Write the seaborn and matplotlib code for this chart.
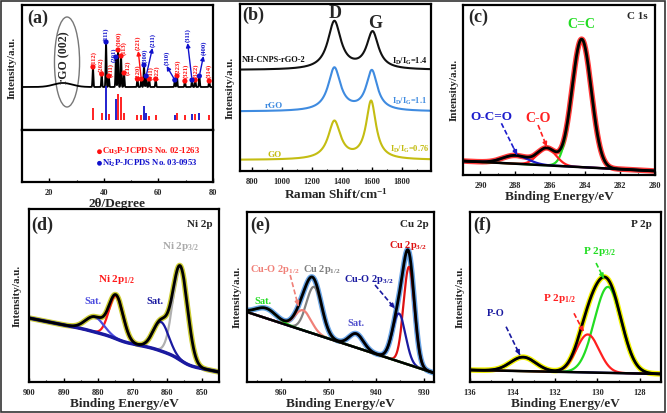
import numpy as np
import pandas as pd
import seaborn as sns
import matplotlib.pyplot as plt
from matplotlib.patches import Ellipse, Rectangle
from matplotlib.ticker import MultipleLocator, AutoMinorLocator

# ---------------- (a) XRD, values ----------------
xrd_peak_pos = [36.0, 39.2, 40.8, 41.8, 44.4, 45.2, 46.3, 47.4, 52.3, 53.7, 54.7, 55.5,
                56.6, 59.0, 66.0, 66.8, 69.7, 72.3, 73.5, 75.0, 78.6]
xrd_peak_h = [20, 13, 45, 11, 30, 37, 31, 14, 8, 8, 22, 11, 8, 8, 7, 11, 6, 7, 7, 11, 6]
xrd_base = 43
rgo_bump = [25.0, 4, 8.0]          # centre, height, width

cu3p_pos = [36.0, 39.2, 41.8, 45.2, 46.3, 47.4, 52.3, 53.7, 56.6, 59.0, 66.8, 69.7, 73.5, 78.6]
cu3p_ref_h = [11.7, 7.3, 5.7, 26, 22.7, 7.3, 5, 5, 4, 5, 7.3, 5, 6, 5]
cu3p_hkl = ['(112)', '(202)', '(211)', '(300)', '(113)', '(212)', '(220)', '(221)', '(311)',
            '(222)', '(223)', '(321)', '(322)', '(314)']
cu3p_lab_x = [36.3, 38.8, 42.6, 45.5, 47.2, 48.7, 52.3, 52.6, 57.2, 59.6, 67.0, 70.0, 73.7, 78.6]
cu3p_lab_y = [65, 58, 53, 84, 75, 55, 51, 80, 50, 50, 56, 52, 52, 52]
cu3p_arrow = [0, 0, 0, 0, 0, 0, 0, 1, 0, 0, 0, 0, 0, 0]

ni2p_pos = [40.8, 44.4, 54.7, 55.5, 66.0, 72.3, 75.0]
ni2p_ref_h = [34, 20.7, 14, 6.7, 5, 6, 7.3]
ni2p_hkl = ['(111)', '(201)', '(300)', '(211)', '(310)', '(311)', '(400)']
ni2p_lab_x = [40.8, 43.6, 55.0, 57.8, 63.0, 70.7, 76.5]
ni2p_lab_y = [89, 68, 67, 83, 65, 88, 75]
ni2p_arrow = [0, 0, 0, 1, 1, 1, 1]

# ---------------- (b) Raman ----------------
raman_names = ['NH-CNPS-rGO-2', 'rGO', 'GO']
raman_ratio = ['1.4', '1.1', '0.76']
raman_colors = ['#111111', '#3f8be0', '#c4bd12']
raman_base = [101, 59.5, 11]
raman_d_pos = [1350, 1350, 1350]
raman_d_h = [48, 43, 38]
raman_d_w = [105, 100, 100]
raman_g_pos = [1605, 1600, 1595]
raman_g_h = [37, 40, 58]
raman_g_w = [95, 90, 80]

# ---------------- XPS fits: centre, height, FWHM ----------------
c1s_names = ['C=C', 'C-O', 'O-C=O']
c1s_pos = [284.2, 286.2, 288.0]
c1s_h = [128, 17, 8.3]
c1s_w = [1.3, 1.25, 1.7]
c1s_colors = ['#22dd22', '#ff2020', '#1c1ccc']
c1s_bg = [14, 4]                    # at 291 eV, at 280 eV

ni_names = ['Ni 2p$_{3/2}$', 'Sat.', 'Ni 2p$_{1/2}$', 'Sat.']
ni_pos = [856.2, 861.8, 874.8, 881.0]
ni_h = [93, 29, 43, 15]
ni_w = [5.0, 5.3, 4.8, 6.3]
ni_colors = ['#b0b0b0', '#1a1aa0', '#ff1a1a', '#4a4adf']
ni_bg = [48, 10, 16]                # linear at 900, at 845, shirley step

cu_names = ['Cu 2p$_{3/2}$', 'Cu-O 2p$_{3/2}$', 'Sat.', 'Cu 2p$_{1/2}$', 'Cu-O 2p$_{1/2}$', 'Sat.']
cu_pos = [933.2, 935.3, 944.2, 953.0, 955.3, 963.0]
cu_h = [98, 48, 14, 47, 20, 10]
cu_w = [2.7, 3.2, 3.5, 3.8, 4.0, 5.0]
cu_colors = ['#dd1111', '#1a1aa0', '#5050cc', '#808080', '#f08078', '#22dd22']
cu_bg = [70, 9]                     # at 967 eV, at 928 eV

p_names = ['P 2p$_{3/2}$', 'P 2p$_{1/2}$', 'P-O']
p_pos = [129.5, 130.45, 133.5]
p_h = [86, 38, 14]
p_w = [1.5, 1.25, 1.4]
p_colors = ['#22dd22', '#ff2020', '#1a1aa0']
p_bg = [8, 12]                      # at 136 eV, at 127 eV

W, H = 667, 413

sns.set_theme(style='white')
plt.rcParams['font.family'] = ['Liberation Serif', 'DejaVu Serif']
plt.rcParams['font.weight'] = 'bold'
plt.rcParams['axes.labelweight'] = 'bold'
plt.rcParams['mathtext.fontset'] = 'custom'
plt.rcParams['mathtext.rm'] = 'Liberation Serif:bold'
plt.rcParams['mathtext.it'] = 'Liberation Serif:italic:bold'
plt.rcParams['mathtext.bf'] = 'Liberation Serif:bold'
plt.rcParams['mathtext.default'] = 'rm'


def box(l, t, r, b):
    return [l / W, 1 - b / H, (r - l) / W, (b - t) / H]


def gauss(x, c, h, w):
    return h * np.exp(-4 * np.log(2) * (x - c) ** 2 / w ** 2)


def lorentz(x, c, h, w):
    return h / (1 + 4 * (x - c) ** 2 / w ** 2)


def style(ax, xlim, ylim, major, xlabel, ypad=3.5):
    ax.set_xlim(xlim)
    ax.set_ylim(ylim)
    ax.set_yticks([])
    ax.xaxis.set_major_locator(MultipleLocator(major))
    ax.xaxis.set_minor_locator(AutoMinorLocator(2))
    ax.tick_params(axis='x', which='major', direction='in', bottom=True, top=False,
                   length=3, width=1, labelsize=6, pad=5, color='black')
    ax.tick_params(axis='x', which='minor', direction='in', bottom=True, top=False,
                   length=1.5, width=0.8, color='black')
    for s in ax.spines.values():
        s.set_linewidth(1.6)
        s.set_color('black')
    ax.set_xlabel(xlabel, fontsize=9.5, labelpad=1)
    ax.set_ylabel('Intensity/a.u.', fontsize=8, labelpad=ypad)


def dashed_arrow(ax, tail, head, color):
    ax.plot([tail[0], head[0]], [tail[1], head[1]], ls=(0, (3, 1.5)), color=color, lw=1.2)
    mid = (tail[0] + 0.8 * (head[0] - tail[0]), tail[1] + 0.8 * (head[1] - tail[1]))
    ax.annotate('', xy=head, xytext=mid,
                arrowprops=dict(arrowstyle='-|>', color=color, lw=1.2, mutation_scale=6,
                                shrinkA=0, shrinkB=0))


fig = plt.figure(figsize=(6.67, 4.13), dpi=100)

# ================= (a) =================
ax_a = fig.add_axes(box(22, 5, 213, 130))
ax_a2 = fig.add_axes(box(22, 130, 213, 182))
tt = np.linspace(10, 80, 3501)
pat = xrd_base + gauss(tt, *rgo_bump)
for c, h in zip(xrd_peak_pos, xrd_peak_h):
    pat = pat + gauss(tt, c, h, 0.35)
sns.lineplot(x=tt, y=pat, color='black', lw=1.3, ax=ax_a)
ax_a.vlines(cu3p_pos, 10, 10 + np.array(cu3p_ref_h), color='#ff1010', lw=1.3)
ax_a.vlines(ni2p_pos, 10, 10 + np.array(ni2p_ref_h), color='#1010cc', lw=1.3)

for pos, hkl, lx, ly, arr, col in ([(p, k, x, y, a, '#ff1010') for p, k, x, y, a in
                                    zip(cu3p_pos, cu3p_hkl, cu3p_lab_x, cu3p_lab_y, cu3p_arrow)] +
                                   [(p, k, x, y, a, '#1010cc') for p, k, x, y, a in
                                    zip(ni2p_pos, ni2p_hkl, ni2p_lab_x, ni2p_lab_y, ni2p_arrow)]):
    my = np.interp(pos, tt, pat)
    ax_a.scatter([pos], [my], s=14, color=col, edgecolor='none', zorder=5)
    ax_a.text(lx, ly, hkl, rotation=90, ha='center', va='bottom', fontsize=4.8, color=col)
    if arr:
        ax_a.annotate('', xy=(lx, ly - 1), xytext=(pos, my),
                      arrowprops=dict(arrowstyle='-|>', color=col, lw=1, mutation_scale=6,
                                      shrinkA=2, shrinkB=0))

ax_a.add_patch(Ellipse((26.5, 68), 9.2, 90, fill=False, ec='#777777', lw=1))
ax_a.text(25.6, 72, 'rGO (002)', rotation=90, ha='center', va='center', fontsize=8.5)
ax_a.text(0.03, 0.895, '(a)', transform=ax_a.transAxes, fontsize=13, va='center')
style(ax_a, (10, 80), (0, 125), 20, '', ypad=4)
ax_a.set_xlabel('')
ax_a.tick_params(axis='x', which='both', bottom=False, labelbottom=False)

style(ax_a2, (10, 80), (0, 52), 20, '2θ/Degree')
ax_a2.set_ylabel('')
ax_a2.scatter([38.4], [30.3], s=12, color='#ff1010', edgecolor='none')
ax_a2.scatter([38.4], [18.7], s=12, color='#1010cc', edgecolor='none')
ax_a2.text(39.4, 30.3, 'Cu$_3$P-JCPDS No. 02-1263', color='#ff1010', fontsize=6.3, va='center')
ax_a2.text(39.4, 18.7, 'Ni$_2$P-JCPDS No. 03-0953', color='#1010cc', fontsize=6.3, va='center')

# ================= (b) =================
ax_b = fig.add_axes(box(240, 4, 431, 171))
rs = np.linspace(720, 1995, 1000)
for i in range(3):
    y = (raman_base[i] + lorentz(rs, raman_d_pos[i], raman_d_h[i], raman_d_w[i])
         + lorentz(rs, raman_g_pos[i], raman_g_h[i], raman_g_w[i]))
    sns.lineplot(x=rs, y=y, color=raman_colors[i], lw=1.5, ax=ax_b)
ax_b.text(731, 111, raman_names[0], color=raman_colors[0], fontsize=6, va='center', ha='left')
ax_b.text(943, 65, raman_names[1], color=raman_colors[1], fontsize=6.5, va='center', ha='center')
ax_b.text(948, 16, raman_names[2], color=raman_colors[2], fontsize=6.5, va='center', ha='center')
for i, yy in enumerate([110, 69.3, 21.7]):
    ax_b.text(1850, yy, 'I$_{D}$/I$_{G}$=' + raman_ratio[i], color=raman_colors[i], fontsize=6,
              ha='center', va='center')
ax_b.text(1356, 157.7, 'D', fontsize=13, ha='center', va='center')
ax_b.text(1625, 147.7, 'G', fontsize=13, ha='center', va='center')
ax_b.text(0.014, 0.934, '(b)', transform=ax_b.transAxes, fontsize=13, va='center')
style(ax_b, (720, 1995), (0, 167), 200, 'Raman Shift/cm$^{-1}$')


# ================= XPS panels =================
def xps(ax, x, bg, pos, hs, ws, cols, raw_col, bg_col, bg_lw):
    comps = [gauss(x, c, h, w) for c, h, w in zip(pos, hs, ws)]
    env = bg + np.sum(comps, axis=0)
    sns.lineplot(x=x, y=env, color=raw_col, lw=4, ax=ax)
    for comp, col in zip(comps, cols):
        sns.lineplot(x=x, y=bg + comp, color=col, lw=1.6, ax=ax)
    sns.lineplot(x=x, y=bg, color=bg_col, lw=bg_lw, ax=ax)
    sns.lineplot(x=x, y=env, color='black', lw=2, ax=ax)


# (c) C 1s
ax_c = fig.add_axes(box(463, 5, 655, 175))
xc = np.linspace(280, 291, 800)
bgc = c1s_bg[1] + (c1s_bg[0] - c1s_bg[1]) * (xc - 280) / 11
xps(ax_c, xc, bgc, c1s_pos, c1s_h, c1s_w, c1s_colors, '#ff3b3b', 'black', 1.8)
ax_c.text(284.2, 150, c1s_names[0], color=c1s_colors[0], fontsize=10, ha='center', va='center')
ax_c.text(286.7, 56.7, c1s_names[1], color=c1s_colors[1], fontsize=10, ha='center', va='center')
ax_c.text(289.4, 58.3, c1s_names[2], color=c1s_colors[2], fontsize=9.5, ha='center', va='center')
dashed_arrow(ax_c, (288.8, 51.7), (287.9, 20), c1s_colors[2])
dashed_arrow(ax_c, (286.7, 50), (286.2, 28.3), c1s_colors[1])
ax_c.text(0.964, 0.93, 'C 1s', transform=ax_c.transAxes, fontsize=8, ha='right', va='center')
ax_c.text(0.026, 0.93, '(c)', transform=ax_c.transAxes, fontsize=13, va='center')
style(ax_c, (291, 280), (0, 170), 2, 'Binding Energy/eV', ypad=3)

# (d) Ni 2p
ax_d = fig.add_axes(box(29, 209, 219, 382))
xd = np.linspace(845, 900, 900)
peaks_d = np.sum([gauss(xd, c, h, w) for c, h, w in zip(ni_pos, ni_h, ni_w)], axis=0)
cum = np.cumsum(peaks_d)
bgd = ni_bg[1] + (ni_bg[0] - ni_bg[1]) * (xd - 845) / 55 + ni_bg[2] * cum / cum[-1]
xps(ax_d, xd, bgd, ni_pos, ni_h, ni_w, ni_colors, '#cccc33', '#1a1aa0', 2.5)
ax_d.text(856.2, 135.3, ni_names[0], color='#aaaaaa', fontsize=8, ha='center', va='center')
ax_d.text(863.5, 81, ni_names[1], color=ni_colors[1], fontsize=7.5, ha='center', va='center')
ax_d.text(874.6, 102, ni_names[2], color=ni_colors[2], fontsize=8, ha='center', va='center')
ax_d.text(881.4, 80.3, ni_names[3], color=ni_colors[3], fontsize=7.5, ha='center', va='center')
ax_d.text(0.968, 0.908, 'Ni 2p', transform=ax_d.transAxes, fontsize=8, ha='right', va='center')
ax_d.text(0.014, 0.908, '(d)', transform=ax_d.transAxes, fontsize=13, va='center')
style(ax_d, (900, 845), (0, 173), 10, 'Binding Energy/eV', ypad=5)

# (e) Cu 2p
ax_e = fig.add_axes(box(247, 212, 434, 382))
xe = np.linspace(928, 967, 900)
bge = cu_bg[1] + (cu_bg[0] - cu_bg[1]) * (xe - 928) / 39
xps(ax_e, xe, bge, cu_pos, cu_h, cu_w, cu_colors, '#6aa5e6', 'black', 1.8)
ax_e.text(933.4, 137, cu_names[0], color=cu_colors[0], fontsize=7.5, ha='center', va='center')
ax_e.text(941.7, 102, cu_names[1], color=cu_colors[1], fontsize=7.5, ha='center', va='center')
ax_e.text(944.2, 58, cu_names[2], color=cu_colors[2], fontsize=7.5, ha='center', va='center')
ax_e.text(951.4, 112, cu_names[3], color=cu_colors[3], fontsize=7.5, ha='center', va='center')
ax_e.text(961.3, 112, cu_names[4], color=cu_colors[4], fontsize=7.5, ha='center', va='center')
ax_e.text(963.6, 80.3, cu_names[5], color=cu_colors[5], fontsize=7.5, ha='center', va='center')
dashed_arrow(ax_e, (940.3, 97), (936.2, 73.7), cu_colors[1])
dashed_arrow(ax_e, (958, 107), (956.3, 76), cu_colors[4])
ax_e.text(0.97, 0.924, 'Cu 2p', transform=ax_e.transAxes, fontsize=8, ha='right', va='center')
ax_e.text(0.016, 0.924, '(e)', transform=ax_e.transAxes, fontsize=13, va='center')
style(ax_e, (967, 928), (0, 170), 10, 'Binding Energy/eV', ypad=4)

# (f) P 2p
ax_f = fig.add_axes(box(470, 212, 661, 382))
xf = np.linspace(127, 136, 800)
bgf = p_bg[1] + (p_bg[0] - p_bg[1]) * (136 - xf) / 9
xps(ax_f, xf, bgf, p_pos, p_h, p_w, p_colors, '#f2f200', 'black', 1.8)
ax_f.text(129.9, 130.3, p_names[0], color=p_colors[0], fontsize=8, ha='center', va='center')
ax_f.text(131.8, 83.7, p_names[1], color=p_colors[1], fontsize=8, ha='center', va='center')
ax_f.text(134.8, 68.7, p_names[2], color=p_colors[2], fontsize=7.5, ha='center', va='center')
dashed_arrow(ax_f, (130.06, 119), (129.7, 103.7), p_colors[0])
dashed_arrow(ax_f, (131.1, 68.7), (130.65, 50.3), p_colors[1])
dashed_arrow(ax_f, (134.3, 55.3), (133.65, 27), p_colors[2])
ax_f.text(0.95, 0.924, 'P 2p', transform=ax_f.transAxes, fontsize=8, ha='right', va='center')
ax_f.text(0.016, 0.924, '(f)', transform=ax_f.transAxes, fontsize=13, va='center')
style(ax_f, (136, 127), (0, 170), 2, 'Binding Energy/eV', ypad=4)

fig.patches.append(Rectangle((0.002, 0.003), 0.995, 0.994, transform=fig.transFigure,
                             fill=False, lw=1.2, ec='#333333'))

fig.savefig('out.png', dpi=100)
